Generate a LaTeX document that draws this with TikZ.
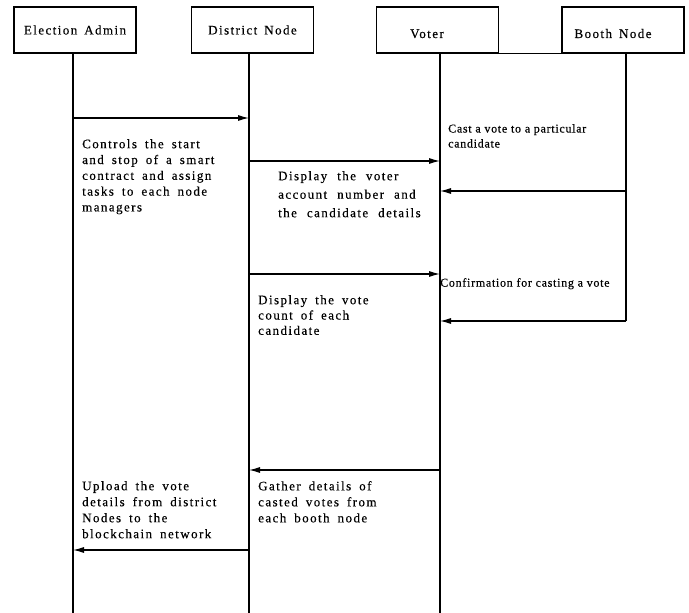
\documentclass[tikz,border=0pt]{standalone}
\usepackage{fontspec}
\setmainfont{Liberation Serif}[LetterSpace=11, FakeBold=0.35]
\usetikzlibrary{arrows.meta}

\begin{document}
\begin{tikzpicture}[x=1pt, y=-1pt, >={Latex[length=11pt,width=6pt]},
    main node/.style={draw, line width=1.1pt, minimum width=122pt, minimum height=46pt, font={\fontsize{13}{15}\selectfont\spaceskip=7pt\relax}},
    life/.style={line width=1.1pt},
    msg/.style={->, line width=1.1pt},
    note/.style={anchor=north west, align=left, font={\fontsize{13}{15.8}\selectfont\spaceskip=8pt plus 2pt\relax}},
    small note/.style={anchor=north west, align=left, font={\fontsize{12}{15}\selectfont\addfontfeature{LetterSpace=6}}}]
        \tikzstyle{every node}=[inner sep=0pt]
        \useasboundingbox (0,0) rectangle (689,613);

          % heads
          \node[main node] (1) at (75,30) {Election Admin};
          \node[main node] (2) at (252.5,30) {District Node};
          \node[main node] (3) at (437.5,30) {\raisebox{-4pt}[8pt][0pt]{Voter}\hspace*{21pt}};
          \node[main node] (4) at (623,30) {\raisebox{-4pt}[8pt][0pt]{Booth Node}\hspace*{20pt}};

          % life lines
          \coordinate (e1) at (73,613);
          \coordinate (e2) at (249,613);
          \coordinate (e3) at (440,613);
          \coordinate (e4) at (626,321);
          \draw[life] (1.south -| e1) -- (e1);
          \draw[life] (2.south -| e2) -- (e2);
          \draw[life] (3.south -| e3) -- (e3);
          \draw[life] (4.south -| e4) -- (e4);
          \draw[life] (3.south east) -- (4.south west);

          % messages
          \coordinate (m1) at (0,118);
          \coordinate (m2) at (0,161);
          \coordinate (m3) at (0,191);
          \coordinate (m4) at (0,274);
          \coordinate (m5) at (0,321);
          \coordinate (m6) at (0,470);
          \coordinate (m7) at (0,550);
          \draw[msg] (e1 |- m1) -- (e2 |- m1);
          \draw[msg] (e2 |- m2) -- (e3 |- m2);
          \draw[msg] (e4 |- m3) -- (e3 |- m3);
          \draw[msg] (e2 |- m4) -- (e3 |- m4);
          \draw[msg] (e4 |- m5) -- (e3 |- m5);
          \draw[msg] (e3 |- m6) -- (e2 |- m6);
          \draw[msg] (e2 |- m7) -- (e1 |- m7);

          % texts
          \node[note] (t1) at (82,139) {Controls the start\\and stop of a smart\\contract and assign\\tasks to each node\\managers};
          \node[note, font={\fontsize{13}{18.5}\selectfont\spaceskip=10pt plus 2pt\relax}] (t2) at (278,171) {Display the voter\\account number and\\the candidate details};
          \node[small note] (t3) at (448,124) {Cast a vote to a particular\\candidate};
          \node[small note] (t4) at (440,278) {Confirmation for casting a vote};
          \node[note, font={\fontsize{13}{15.3}\selectfont\spaceskip=8pt plus 2pt\relax}] (t5) at (258,295) {Display the vote\\count of each\\candidate};
          \node[note, font={\fontsize{13}{16}\selectfont\spaceskip=8pt plus 2pt\relax}] (t6) at (258,481) {Gather details of\\casted votes from\\each booth node};
          \node[note, font={\fontsize{13}{16}\selectfont\spaceskip=8pt plus 2pt\relax}] (t7) at (82,481) {Upload the vote\\details from district\\Nodes to the\\blockchain network};

        \end{tikzpicture}
\end{document}
